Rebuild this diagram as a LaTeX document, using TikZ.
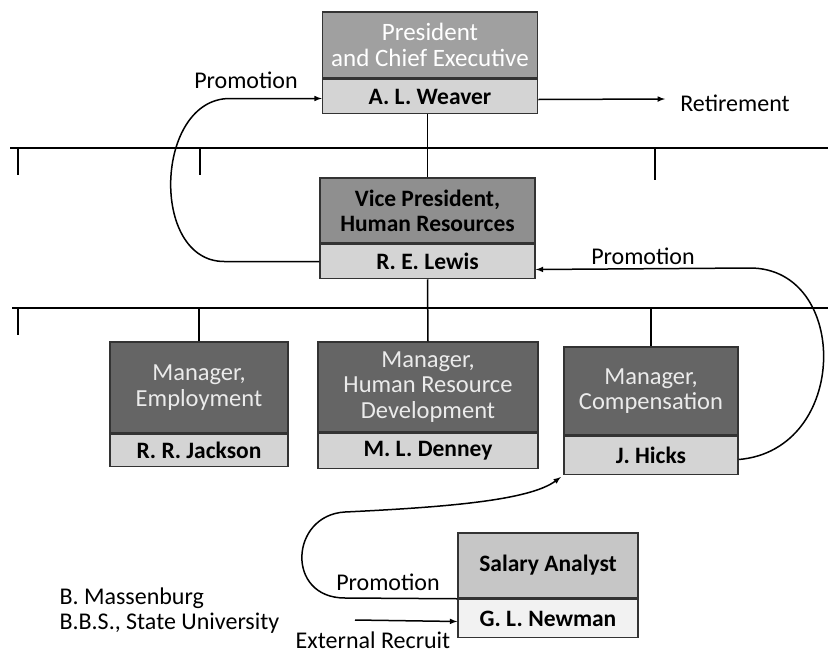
\documentclass[tikz,border=0pt]{standalone}
\usepackage{fontspec}
\setmainfont{Carlito}
\usepackage{xcolor}
\usepackage{tikz}
\usetikzlibrary{calc}
\usetikzlibrary{arrows}
\usetikzlibrary{positioning}

\definecolor{presgray}{HTML}{A0A0A0}
\definecolor{vpgray}{HTML}{8F8F8F}
\definecolor{mangray}{HTML}{656565}
\definecolor{namegray}{HTML}{D4D4D4}
\definecolor{salgray}{HTML}{C6C6C6}
\definecolor{salname}{HTML}{F2F2F2}

\tikzset{
  box/.style={rectangle, draw=black!80, line width=1.5pt, inner sep=0pt, align=center,
    font=\fontsize{24.5}{25.5}\selectfont},
  namebox/.style={box, fill=namegray, text=black, font=\fontsize{23.5}{25}\selectfont\bfseries},
  lbl/.style={font=\fontsize{24}{24}\selectfont, text=black},
  arr/.style={-latex, line width=1.5pt},
  ln/.style={line width=1.5pt}
}

\begin{document}
\begin{tikzpicture}[x=1pt, y=-1pt]
\useasboundingbox (0,0) rectangle (828,654);
% boxes
\node [box, fill=presgray, text=white, font=\fontsize{25}{26}\selectfont, minimum width=215pt, minimum height=66pt](pres) at (430,45) {President\\and Chief Executive};
\node [namebox, minimum width=215pt, minimum height=34pt, below=0pt of pres](presname) {A. L. Weaver};
\node [box, fill=vpgray, text=black, font=\fontsize{23.5}{25}\selectfont\bfseries, minimum width=215pt, minimum height=65pt](vp) at (427.5,210.5) {Vice President,\\Human Resources};
\node [namebox, minimum width=215pt, minimum height=34pt, below=0pt of vp](vpname) {R. E. Lewis};
\node [box, fill=mangray, text=black!8, minimum width=178pt, minimum height=91pt](emp) at (199,387.5) {Manager,\\Employment};
\node [namebox, minimum width=178pt, minimum height=32pt, below=0pt of emp](empname) {R. R. Jackson};
\node [box, fill=mangray, text=black!8, minimum width=220pt, minimum height=90pt](hrd) at (428,387) {Manager,\\Human Resource\\Development};
\node [namebox, minimum width=220pt, minimum height=35pt, below=0pt of hrd](hrdname) {M. L. Denney};
\node [box, fill=mangray, text=black!8, minimum width=174pt, minimum height=88pt](comp) at (651,391) {Manager,\\Compensation};
\node [namebox, minimum width=174pt, minimum height=38pt, below=0pt of comp](compname) {J. Hicks};
\node [box, fill=salgray, text=black, font=\fontsize{23.5}{25}\selectfont\bfseries, minimum width=180pt, minimum height=65pt](sal) at (548,565.5) {Salary Analyst};
\node [namebox, fill=salname, minimum width=180pt, minimum height=38pt, below=0pt of sal](salname) {G. L. Newman};
% labels
\node [lbl](promoa) at (246,80) {Promotion};
\node [lbl](retire) at (735,103) {Retirement};
\node [lbl](promob) at (643,256) {Promotion};
\node [lbl](promoc) at (388,582) {Promotion};
\node [lbl](extern) at (373,640) {External Recruit};
\node [lbl, anchor=west, align=left, font=\fontsize{24}{25}\selectfont](recruit) at (56,611) {B. Massenburg\\B.B.S., State University};
% reporting lines
\coordinate (bara) at (10,148);
\coordinate (barb) at (12,308);
\draw [ln] (bara) -- (828,148);
\draw [ln] (barb) -- (828,308);
\draw [ln] (vp.north |- presname.south) -- (vp.north);
\draw [ln] (vpname.south) -- (hrd.north);
\draw [ln] (emp.north) -- (emp.north |- barb);
\draw [ln] (comp.north) -- (comp.north |- barb);
\foreach \x/\y in {18/175, 200/175, 655/180}
  \draw [ln] (\x,148) -- (\x,\y);
\draw [ln] (18,308) -- (18,335);
% moves
\coordinate (retend) at (665,99);
\draw [arr] ([yshift=-3pt]presname.east) -- (retend);
\draw [arr] (vpname.west) -- ++(-95,0) .. controls +(-75,0) and +(-75,0) .. ([xshift=-92pt,yshift=-2pt]presname.west) -- ([yshift=-2pt]presname.west);
\draw [arr] ([yshift=-4pt]compname.east) .. controls (850,450) and (850,268) .. (750,268) -- ([yshift=-8pt]vpname.east);
\draw [arr, shorten >=3pt] (sal.south west) -- (345,598) .. controls (285,598) and (290,515) .. (345,512) .. controls (450,507) and (530,500) .. (compname.south west);
\coordinate (extstart) at (355,620);
\draw [arr] (extstart) -- ([yshift=-3pt]salname.west);
\end{tikzpicture}
\end{document}
